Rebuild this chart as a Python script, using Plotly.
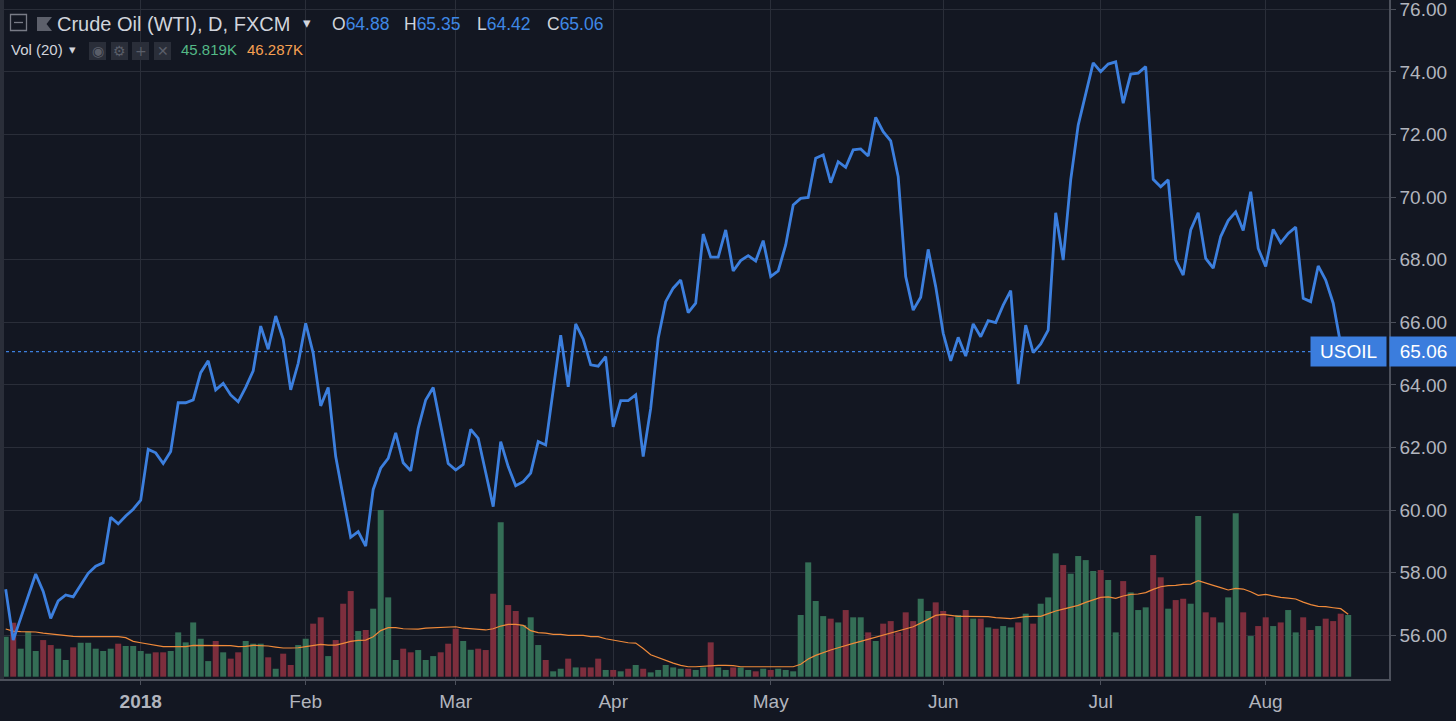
import plotly.graph_objects as go

# ---------------- data ----------------
bar_index = list(range(180))

close = [57.47, 55.85, 56.55, 57.25, 57.96, 57.40, 56.54, 57.10, 57.29, 57.23,
         57.60, 57.98, 58.21, 58.32, 59.77, 59.56, 59.81, 60.03, 60.32, 61.94,
         61.83, 61.49, 61.87, 63.43, 63.43, 63.52, 64.39, 64.77, 63.84, 64.05,
         63.68, 63.46, 63.92, 64.45, 65.88, 65.14, 66.20, 65.46, 63.84, 64.69,
         65.97, 65.01, 63.33, 63.92, 61.71, 60.43, 59.13, 59.31, 58.85, 60.66,
         61.34, 61.65, 62.47, 61.51, 61.26, 62.61, 63.52, 63.92, 62.75, 61.49,
         61.28, 61.46, 62.58, 62.29, 61.20, 60.11, 62.19, 61.39, 60.78, 60.91,
         61.18, 62.19, 62.08, 63.80, 65.59, 63.94, 65.95, 65.46, 64.64, 64.60,
         64.90, 62.66, 63.50, 63.50, 63.68, 61.71, 63.25, 65.49, 66.66, 67.09,
         67.35, 66.31, 66.61, 68.82, 68.08, 68.08, 68.95, 67.64, 67.97, 68.13,
         67.96, 68.61, 67.46, 67.64, 68.47, 69.75, 69.96, 69.99, 71.24, 71.35,
         70.46, 71.13, 70.95, 71.51, 71.54, 71.31, 72.55, 72.09, 71.80, 70.65,
         67.46, 66.39, 66.80, 68.33, 67.14, 65.65, 64.77, 65.52, 64.92, 65.95,
         65.54, 66.05, 65.99, 66.55, 67.01, 64.03, 65.91, 65.03, 65.31, 65.75,
         69.50, 67.99, 70.55, 72.30, 73.32, 74.29, 74.01, 74.25, 74.32, 73.00,
         73.93, 73.96, 74.17, 70.57, 70.33, 70.55, 67.99, 67.51, 68.95, 69.50,
         68.04, 67.73, 68.74, 69.25, 69.53, 68.93, 70.17, 68.36, 67.78, 68.97,
         68.54, 68.84, 69.04, 66.77, 66.66, 67.80, 67.35, 66.61, 65.30, 65.06]

volume_k = [29.7, 40.1, 20.8, 33.4, 19.1, 27.2, 23.5, 20.8, 12.4, 21.8,
            25.2, 25.2, 20.8, 19.1, 20.8, 24.5, 22.8, 22.8, 19.1, 17.1,
            18.1, 18.1, 19.1, 32.9, 25.5, 40.3, 28.2, 11.6, 26.5, 18.1,
            13.4, 18.1, 26.5, 24.5, 24.5, 14.4, 5.9, 17.1, 8.7, 23.5,
            28.2, 39.4, 44.1, 15.3, 27.2, 54.2, 63.6, 33.9, 34.7, 50.5,
            123.8, 58.9, 12.4, 20.8, 18.1, 19.8, 12.4, 15.3, 18.1, 24.5,
            35.6, 26.5, 20.0, 20.8, 19.8, 61.6, 114.6, 53.2, 48.8, 38.4,
            44.1, 23.5, 12.4, 4.0, 5.9, 13.4, 6.9, 6.9, 6.9, 13.4,
            5.0, 5.0, 4.0, 5.9, 8.7, 5.9, 3.2, 5.0, 8.7, 6.9,
            5.9, 5.9, 5.0, 6.9, 25.5, 6.9, 5.0, 6.9, 6.9, 5.0,
            4.0, 5.9, 5.0, 5.9, 5.0, 4.0, 45.8, 84.9, 56.2, 45.0,
            43.1, 40.3, 49.5, 44.1, 44.1, 32.9, 26.5, 39.4, 41.3, 32.9,
            47.8, 41.3, 57.9, 48.8, 55.2, 48.8, 44.1, 45.8, 49.5, 43.1,
            43.1, 36.6, 35.6, 37.6, 36.6, 40.3, 46.8, 39.4, 54.2, 58.9,
            91.6, 82.9, 76.5, 89.6, 86.6, 78.5, 79.2, 71.8, 32.9, 71.0,
            62.6, 49.5, 51.5, 90.3, 73.8, 50.5, 56.9, 57.9, 54.2, 119.3,
            47.8, 44.1, 40.3, 58.9, 121.3, 47.8, 30.2, 37.6, 44.1, 37.6,
            40.3, 49.5, 32.9, 44.1, 34.7, 37.6, 43.1, 41.3, 46.8, 45.8]

# one flag per bar: g = up (green) volume bar, r = down (red) volume bar
volume_up_rows = [
    "grgggrrggr",  # 0-9
    "gggggrgggg",  # 10-19
    "rrggggggrg",  # 20-29
    "rrgggrgrrg",  # 30-39
    "grrgrrrgrg",  # 40-49
    "gggrrgggrr",  # 50-59
    "rggrrrgrrg",  # 60-69
    "ggrggrgrrr",  # 70-79
    "grgrgrgggg",  # 80-89
    "grggrggrgg",  # 90-99
    "rgrggggggg",  # 100-109
    "rgrggrgrrr",  # 110-119
    "rrggrrrgrg",  # 120-129
    "rgrggrgrgg",  # 130-139
    "grggggrggr",  # 140-149
    "gggrrgrrgg",  # 150-159
    "rrgggrgrrg",  # 160-169
    "rggrrgrrrg",  # 170-179
]
volume_up = list("".join(volume_up_rows))

vol_ma20_k = [35.4, 33.9, 33.4, 33.4, 33.2, 32.4, 31.7, 30.9, 30.4, 29.9,
              29.7, 29.7, 29.7, 29.7, 29.7, 29.7, 29.0, 26.2, 25.2, 24.3,
              23.3, 22.3, 22.3, 22.3, 22.3, 23.3, 23.3, 23.3, 23.3, 23.3,
              23.0, 22.3, 22.5, 23.3, 23.3, 22.8, 22.0, 21.3, 21.3, 21.5,
              22.3, 23.3, 24.0, 23.5, 23.5, 24.8, 26.2, 27.0, 27.2, 29.7,
              34.2, 36.4, 36.4, 35.6, 35.4, 35.4, 36.1, 36.4, 36.4, 36.6,
              37.1, 36.0, 35.4, 35.1, 34.7, 35.6, 37.6, 38.9, 38.9, 38.1,
              34.2, 32.7, 32.4, 31.4, 31.4, 30.7, 30.7, 30.7, 29.7, 29.7,
              28.2, 27.2, 26.0, 25.2, 25.0, 21.0, 16.3, 14.1, 12.1, 10.1,
              8.4, 7.4, 7.4, 7.7, 8.4, 8.4, 8.4, 8.2, 7.4, 7.4,
              7.4, 7.4, 7.4, 7.4, 7.4, 7.4, 9.2, 13.1, 15.8, 18.1,
              19.8, 21.5, 23.3, 24.8, 26.2, 27.7, 29.2, 30.7, 32.2, 33.9,
              35.4, 37.1, 39.8, 42.5, 45.5, 46.3, 45.3, 44.8, 44.8, 44.8,
              44.8, 44.6, 43.8, 43.6, 43.1, 43.8, 44.6, 44.8, 44.8, 46.8,
              48.8, 50.2, 51.5, 53.0, 55.2, 56.9, 58.9, 59.2, 58.2, 59.9,
              61.1, 61.4, 62.4, 64.8, 66.8, 67.6, 67.8, 68.6, 68.8, 71.3,
              69.8, 67.8, 66.1, 64.4, 65.6, 65.1, 63.1, 60.4, 61.1, 59.9,
              58.9, 58.4, 57.7, 55.4, 53.5, 52.2, 52.0, 51.2, 50.5, 46.3]

month_tick_idx = [18, 40, 60, 81, 102, 125, 146, 168]
month_labels = ["<b>2018</b>", "Feb", "Mar", "Apr", "May", "Jun", "Jul", "Aug"]
price_ticks = [56, 58, 60, 62, 64, 66, 68, 70, 72, 74, 76]

title_text = "Crude Oil (WTI), D, FXCM"
ohlc_names = ["O", "H", "L", "C"]
ohlc_values = ["64.88", "65.35", "64.42", "65.06"]
vol_title = "Vol (20)"
vol_last = "45.819K"
vol_ma_last = "46.287K"
symbol = "USOIL"

# ---------------- style ----------------
BG = "#131722"
GRID = "#2a2e39"
AXIS = "#4c505b"
TXT = "#b2b5be"
HEAD = "#d1d4dc"
BLUE = "#3c7fde"
LBL_BLUE = "#3b7ddd"
GREEN_BAR = "#346e56"
RED_BAR = "#7d2e3d"
MA_COL = "#f08a3a"
FONT = "Liberation Sans, Arial, sans-serif"

PW, PH = 1389, 679  # plot area size in pixels


def px(x):
    return x / PW


def py(y):
    return 1 - y / PH


bar_colors = [GREEN_BAR if f == "g" else RED_BAR for f in volume_up]

fig = go.Figure()
fig.add_trace(go.Bar(x=bar_index, y=volume_k, marker=dict(color=bar_colors, line=dict(width=0)),
                     width=0.8, yaxis="y", hoverinfo="skip"))
fig.add_trace(go.Scatter(x=bar_index, y=vol_ma20_k, mode="lines", yaxis="y",
                         line=dict(color=MA_COL, width=1.2), hoverinfo="skip"))
fig.add_trace(go.Scatter(x=bar_index, y=close, mode="lines", yaxis="y2",
                         line=dict(color=BLUE, width=2.8), hoverinfo="skip"))

last = close[-1]

shapes = [
    # last price dotted line
    dict(type="line", xref="paper", yref="y2", x0=0, x1=px(1312), y0=last, y1=last,
         line=dict(color=BLUE, width=1.2, dash="dot"), layer="below"),
    # left edge strip
    dict(type="rect", xref="paper", yref="paper", x0=0, x1=px(4), y0=0, y1=1,
         fillcolor="#2a2e39", line=dict(width=0), layer="above"),
    # collapse square icon
    dict(type="rect", xref="paper", yref="paper", x0=px(10.5), x1=px(26.5), y0=py(30.5), y1=py(14.5),
         line=dict(color="#787b86", width=1.3), fillcolor="rgba(0,0,0,0)"),
    dict(type="line", xref="paper", yref="paper", x0=px(14), x1=px(23), y0=py(22.5), y1=py(22.5),
         line=dict(color="#787b86", width=1.3)),
    # flag icon
    dict(type="path", xref="paper", yref="paper",
         path="M {a},{b} L {c},{b} L {d},{e} L {c},{f} L {a},{f} Z".format(
             a=px(37), b=py(17), c=px(52), d=px(46.5), e=py(24), f=py(31)),
         fillcolor="#5d606b", line=dict(width=0)),
]
# indicator button boxes
for x0 in [89, 111, 132, 154]:
    shapes.append(dict(type="rect", xref="paper", yref="paper", x0=px(x0), x1=px(x0 + 17),
                       y0=py(60), y1=py(42), fillcolor="#2a2e39", line=dict(width=0)))

ann = []


def head(x, y, text, size, color, family=FONT, anchor="left"):
    ann.append(dict(xref="paper", yref="paper", x=px(x), y=py(y), text=text, showarrow=False,
                    xanchor=anchor, yanchor="middle", font=dict(size=size, color=color, family=family)))


head(55, 24, title_text, 20, HEAD)
head(306.5, 23, "▾", 15, HEAD, family="DejaVu Sans", anchor="center")
ohlc_x = [330, 402, 475, 545]
for xx, n, v in zip(ohlc_x, ohlc_names, ohlc_values):
    head(xx, 24, n + "<span style='color:#3f88e5'>" + v + "</span>", 17.5, HEAD)
head(9, 50, vol_title, 15, HEAD)
head(72.5, 50, "▾", 13, HEAD, family="DejaVu Sans", anchor="center")
for xx, g in zip([97.5, 119.5, 140.5, 162.5], ["◉", "⚙", "+", "✕"]):
    head(xx, 51, g, 14, "#5a5e69", family="DejaVu Sans", anchor="center")
head(179, 50, vol_last, 15, "#53b987")
head(245, 50, vol_ma_last, 15, "#f7a052")

# last price labels
ann.append(dict(xref="paper", yref="y2", x=px(1387), y=last, text=symbol, showarrow=False,
                xanchor="right", yanchor="middle", bgcolor=LBL_BLUE, width=71, height=25, borderpad=2,
                font=dict(size=19, color="white", family=FONT)))
ann.append(dict(xref="paper", yref="y2", x=1.0, y=last, text=f"{last:.2f}", showarrow=False,
                xanchor="left", yanchor="middle", bgcolor=LBL_BLUE, width=63, height=25, borderpad=2,
                font=dict(size=19, color="white", family=FONT)))

fig.update_layout(
    width=1456, height=721,
    margin=dict(l=0, r=67, t=0, b=42),
    paper_bgcolor=BG, plot_bgcolor=BG,
    showlegend=False,
    font=dict(family=FONT, color=TXT),
    xaxis=dict(range=[-0.76, 184.44], tickmode="array", tickvals=month_tick_idx, ticktext=month_labels,
               showgrid=True, gridcolor=GRID, gridwidth=1, zeroline=False,
               showline=True, linecolor=AXIS, linewidth=1.5,
               ticks="outside", ticklen=4, tickcolor=AXIS,
               tickfont=dict(size=19, color=TXT, family=FONT), fixedrange=True),
    yaxis=dict(range=[-1.71, 502.5], visible=False, fixedrange=True),
    yaxis2=dict(overlaying="y", side="right", range=[54.604, 76.297], tickmode="array",
                tickvals=price_ticks, tickformat=".2f", ticklabeloverflow="allow",
                showgrid=True, gridcolor=GRID, gridwidth=1, zeroline=False,
                showline=True, linecolor=AXIS, linewidth=1.5,
                ticks="outside", ticklen=5, tickcolor=AXIS,
                tickfont=dict(size=19, color=TXT, family=FONT), fixedrange=True),
    shapes=shapes,
    annotations=ann,
)

fig.write_html("out.html", config={"displayModeBar": False},
               post_script="document.body.style.margin='0';document.body.style.overflow='hidden';")
